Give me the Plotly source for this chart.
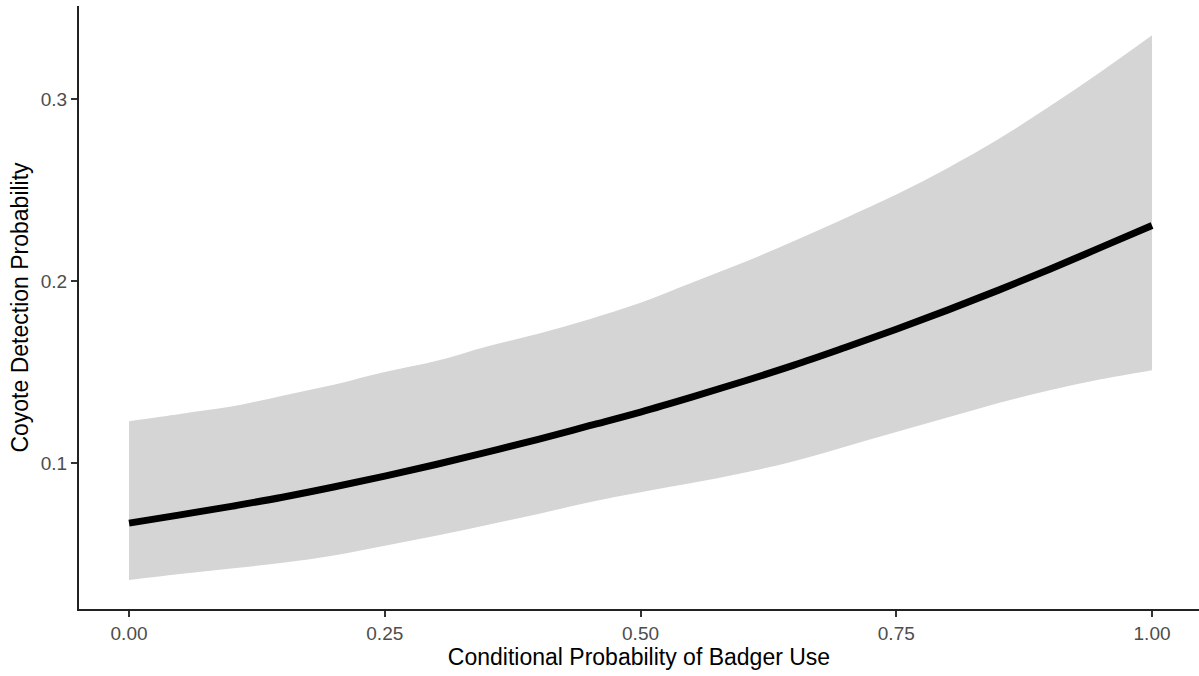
import plotly.graph_objects as go

# Conditional probability of badger use (x)
badger_use = [0.00, 0.05, 0.10, 0.15, 0.20, 0.25, 0.30, 0.35, 0.40, 0.45, 0.50,
              0.55, 0.60, 0.65, 0.70, 0.75, 0.80, 0.85, 0.90, 0.95, 1.00]
# Predicted coyote detection probability
coyote_fit = [0.0670, 0.0715, 0.0762, 0.0812, 0.0868, 0.0928, 0.0992, 0.1060, 0.1130, 0.1205, 0.1280,
              0.1362, 0.1448, 0.1538, 0.1635, 0.1735, 0.1840, 0.1950, 0.2065, 0.2185, 0.2305]
# Confidence band
coyote_upper = [0.123, 0.127, 0.131, 0.137, 0.143, 0.150, 0.156, 0.164, 0.171, 0.179, 0.188,
                0.199, 0.210, 0.222, 0.2345, 0.2475, 0.262, 0.278, 0.296, 0.315, 0.335]
coyote_lower = [0.0357, 0.0390, 0.0420, 0.0452, 0.0492, 0.0545, 0.0600, 0.0660, 0.0720, 0.0785, 0.0840,
                0.0890, 0.0945, 0.1010, 0.1090, 0.1170, 0.1250, 0.1330, 0.1400, 0.1460, 0.1510]

x_ticks = [0.0, 0.25, 0.5, 0.75, 1.0]
x_ticktext = ["0.00", "0.25", "0.50", "0.75", "1.00"]
y_ticks = [0.1, 0.2, 0.3]
y_ticktext = ["0.1", "0.2", "0.3"]

FONT = "Liberation Sans, Arial, sans-serif"

fig = go.Figure()
fig.add_trace(go.Scatter(x=badger_use, y=coyote_upper, mode="lines",
                         line=dict(width=0, color="rgba(0,0,0,0)", shape="spline"),
                         showlegend=False, hoverinfo="skip"))
fig.add_trace(go.Scatter(x=badger_use, y=coyote_lower, mode="lines",
                         line=dict(width=0, color="rgba(0,0,0,0)", shape="spline"),
                         fill="tonexty", fillcolor="#D5D5D5",
                         showlegend=False, hoverinfo="skip"))
fig.add_trace(go.Scatter(x=badger_use, y=coyote_fit, mode="lines",
                         line=dict(width=7, color="#000000", shape="spline"),
                         showlegend=False))

fig.update_layout(
    width=1199, height=676,
    margin=dict(l=79, r=0, t=6, b=67),
    paper_bgcolor="white", plot_bgcolor="white",
    font=dict(family=FONT, color="#000000"),
    showlegend=False,
)
fig.update_xaxes(
    range=[-0.0489, 1.0459],
    tickvals=x_ticks, ticktext=x_ticktext,
    showgrid=False, zeroline=False,
    showline=True, linecolor="#222222", linewidth=2,
    ticks="outside", ticklen=6, tickwidth=1.5, tickcolor="#333333",
    tickfont=dict(size=19, color="#4D4D4D", family=FONT),
    title=dict(text="Conditional Probability of Badger Use",
               font=dict(size=23, color="#000000", family=FONT), standoff=4),
)
fig.update_yaxes(
    range=[0.0198, 0.3511],
    tickvals=y_ticks, ticktext=y_ticktext,
    showgrid=False, zeroline=False,
    showline=True, linecolor="#222222", linewidth=2,
    ticks="outside", ticklen=6, tickwidth=1.5, tickcolor="#333333",
    tickfont=dict(size=19, color="#4D4D4D", family=FONT),
    title=dict(text="Coyote Detection Probability",
               font=dict(size=23, color="#000000", family=FONT), standoff=6),
)

fig.write_html("out.html")
